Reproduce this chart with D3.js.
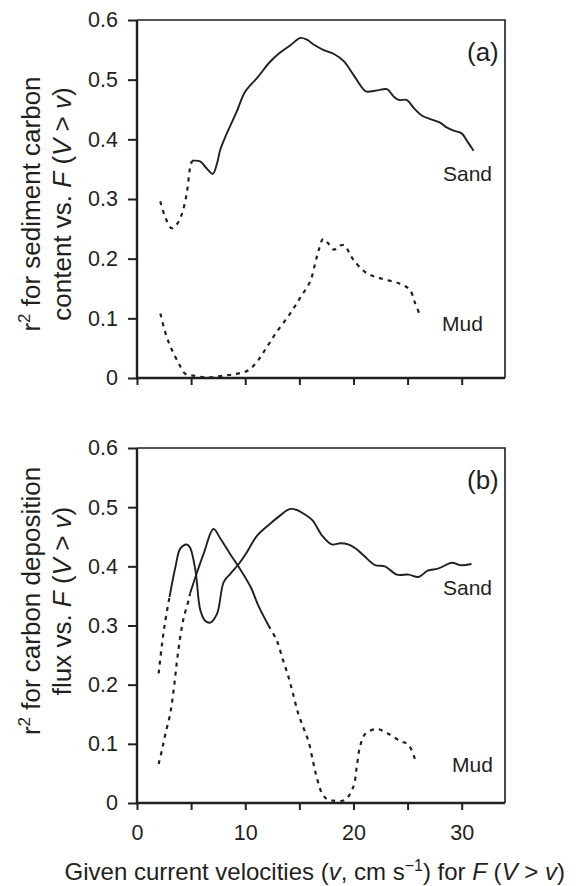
<!DOCTYPE html>
<html>
<head>
<meta charset="utf-8">
<script src="https://cdn.jsdelivr.net/npm/d3@7"></script>
<style>
  body { margin: 0; background: #fff; }
  svg { display: block; font-family: "Liberation Sans", Arial, Helvetica, sans-serif; }
  text { fill: #231f20; }
</style>
</head>
<body>
<div id="chart"></div>
<script>
'use strict';

// values: [velocity v (cm/s), r2]
var sandADash = [[2.15,0.296],[2.6,0.27],[3.2,0.251],[3.7,0.258],[4.15,0.275],[4.6,0.31],[4.9,0.352],[5.08,0.364]];
var sandASolid = [[5.08,0.364],[5.84,0.363],[6.4,0.352],[7.0,0.342],[7.4,0.36],[7.7,0.383],[8.3,0.41],[9.2,0.446],
  [10.0,0.48],[11.1,0.503],[12.3,0.53],[13.2,0.545],[14.2,0.558],[15.1,0.570],[15.7,0.567],[16.4,0.558],[17.2,0.55],
  [18.2,0.543],[19.1,0.531],[20.0,0.508],[20.9,0.484],[21.2,0.480],[22.2,0.482],[23.1,0.484],[23.7,0.472],[24.2,0.466],
  [24.9,0.466],[25.6,0.452],[26.3,0.440],[27.1,0.434],[28.0,0.428],[28.6,0.42],[29.2,0.415],[30.0,0.41],[30.5,0.397],[31.1,0.381]];
var mudADash = [[2.16,0.108],[2.46,0.086],[2.8,0.066],[3.23,0.047],[3.84,0.025],[4.46,0.007],[5.2,0.004],[6.46,0.001],
  [8.0,0.004],[9.2,0.007],[10.3,0.013],[11.2,0.03],[12.0,0.052],[12.9,0.077],[14.15,0.108],[15.1,0.135],[16.0,0.162],
  [16.5,0.195],[16.8,0.215],[17.2,0.233],[17.7,0.225],[18.2,0.215],[18.7,0.222],[19.2,0.222],[19.6,0.21],[20.0,0.198],
  [21.2,0.176],[22.5,0.167],[24.3,0.158],[25.2,0.148],[25.7,0.125],[26.2,0.103]];

var sandBDash = [[2.0,0.219],[2.3,0.267],[2.6,0.306],[3.0,0.348]];
var sandBSolid = [[3.0,0.348],[3.55,0.399],[4.0,0.43],[4.6,0.437],[4.9,0.432],[5.4,0.393],[5.85,0.326],[6.3,0.308],
  [6.77,0.305],[7.4,0.32],[8.0,0.373],[8.6,0.387],[9.4,0.404],[10.15,0.424],[11.1,0.452],[12.3,0.472],[13.3,0.487],
  [14.15,0.497],[14.8,0.495],[15.4,0.489],[16.2,0.478],[17.1,0.452],[18.0,0.437],[18.8,0.439],[19.5,0.437],[20.2,0.43],
  [20.9,0.419],[22.0,0.402],[22.9,0.40],[24.0,0.386],[25.1,0.386],[26.0,0.382],[26.9,0.393],[27.8,0.396],[29.1,0.406],
  [29.85,0.402],[30.9,0.404]];
var mudBDash1 = [[2.0,0.066],[2.3,0.089],[2.6,0.115],[3.07,0.151],[3.4,0.193],[3.7,0.241],[4.0,0.281],[4.3,0.312],[4.77,0.343],[4.9,0.354]];
var mudBSolid = [[4.9,0.354],[5.4,0.382],[6.15,0.421],[7.07,0.463],[7.7,0.447],[8.6,0.421],[9.5,0.396],[10.5,0.365],[11.2,0.334],[12.15,0.30]];
var mudBDash2 = [[12.15,0.30],[12.9,0.275],[13.5,0.241],[14.0,0.213],[14.45,0.182],[14.9,0.151],[15.4,0.126],[15.85,0.104],
  [16.3,0.067],[16.6,0.044],[17.1,0.016],[17.6,0.006],[18.15,0.004],[19.2,0.005],[20.0,0.028],[20.3,0.061],[20.6,0.095],
  [21.1,0.117],[22.15,0.125],[23.2,0.117],[24.3,0.105],[25.1,0.098],[25.7,0.073]];

var yTicks = [0, 0.1, 0.2, 0.3, 0.4, 0.5, 0.6];
var xTicks = [0, 5, 10, 15, 20, 25, 30];
var xTickLabels = [0, 10, 20, 30];

var width = 578, height = 886;
var left = 137, right = 505;

var svg = d3.select('#chart').append('svg')
  .attr('width', width)
  .attr('height', height);

var x = d3.scaleLinear().domain([0, 34]).range([left, right]);

var line = d3.line()
  .x(function(d) { return x(d[0]); })
  .curve(d3.curveCatmullRom.alpha(0.5));

function panel(top, bottom, opts) {
  var y = d3.scaleLinear().domain([0, 0.6]).range([bottom, top]);
  line.y(function(d) { return y(d[1]); });
  var g = svg.append('g');

  // frame top + right
  g.append('path')
    .attr('d', 'M' + x(0) + ',' + y(0.6) + 'H' + x(34) + 'V' + y(0))
    .attr('fill', 'none').attr('stroke', '#231f20').attr('stroke-width', 1.6);

  var ya = g.append('g')
    .attr('transform', 'translate(' + x(0) + ',0)')
    .call(d3.axisLeft(y).tickValues(yTicks).tickSize(9).tickPadding(10)
      .tickFormat(function(d) { return d === 0 ? '0' : d3.format('.1f')(d); }));
  var xa = g.append('g')
    .attr('transform', 'translate(0,' + y(0) + ')')
    .call(d3.axisBottom(x).tickValues(xTicks).tickSize(7).tickPadding(15)
      .tickFormat(function(d) { return opts.xLabels && xTickLabels.indexOf(d) >= 0 ? d : ''; }));
  [ya, xa].forEach(function(a) {
    a.select('.domain').remove();
    a.selectAll('line').attr('stroke', '#231f20').attr('stroke-width', 2);
    a.selectAll('text').attr('font-size', 21.5).style('font-family', 'inherit').attr('fill', '#231f20');
  });
  // axis lines
  g.append('path')
    .attr('d', 'M' + x(0) + ',' + y(0.6) + 'V' + y(0) + 'H' + x(34))
    .attr('fill', 'none').attr('stroke', '#231f20').attr('stroke-width', 2.4);

  opts.dashed.forEach(function(s) {
    g.append('path').attr('d', line(s))
      .attr('fill', 'none').attr('stroke', '#231f20').attr('stroke-width', 2.2)
      .attr('stroke-dasharray', '4,5');
  });
  opts.solid.forEach(function(s) {
    g.append('path').attr('d', line(s))
      .attr('fill', 'none').attr('stroke', '#231f20').attr('stroke-width', 1.9);
  });

  g.append('text').attr('x', 467).attr('y', top + 40.5).attr('font-size', 26).text(opts.tag);
  opts.labels.forEach(function(l) {
    g.append('text').attr('x', l[0]).attr('y', y(l[1])).attr('font-size', 21).text(l[2]);
  });

  // y title
  var t = g.append('g')
    .attr('transform', 'translate(40,' + opts.titleY + ') rotate(-90)')
    .attr('text-anchor', 'middle').attr('font-size', 26);
  var t1 = t.append('text').attr('y', 0);
  t1.append('tspan').text('r');
  t1.append('tspan').attr('font-size', 17).attr('dy', -10).text('2');
  t1.append('tspan').attr('dy', 10).text(' ' + opts.title1);
  var t2 = t.append('text').attr('y', 31);
  t2.append('tspan').text(opts.title2 + ' ');
  t2.append('tspan').attr('font-style', 'italic').text('F');
  t2.append('tspan').text(' (');
  t2.append('tspan').attr('font-style', 'italic').text('V');
  t2.append('tspan').text(' > ');
  t2.append('tspan').attr('font-style', 'italic').text('v');
  t2.append('tspan').text(')');
}

panel(20, 378, {
  tag: '(a)',
  dashed: [sandADash, mudADash],
  solid: [sandASolid],
  labels: [[443, 0.33, 'Sand'], [442, 0.078, 'Mud']],
  title1: 'for sediment carbon',
  title2: 'content vs.',
  titleY: 204,
  xLabels: false
});

panel(448, 803, {
  tag: '(b)',
  dashed: [sandBDash, mudBDash1, mudBDash2],
  solid: [sandBSolid, mudBSolid],
  labels: [[443, 0.352, 'Sand'], [452, 0.052, 'Mud']],
  title1: 'for carbon deposition',
  title2: 'flux vs.',
  titleY: 601,
  xLabels: true
});

// x title
var xt = svg.append('text')
  .attr('x', 565).attr('y', 880)
  .attr('text-anchor', 'end').attr('font-size', 24);
xt.append('tspan').text('Given current velocities (');
xt.append('tspan').attr('font-style', 'italic').text('v');
xt.append('tspan').text(', cm s');
xt.append('tspan').attr('font-size', 16).attr('dy', -9).text('\u22121');
xt.append('tspan').attr('dy', 9).text(') for ');
xt.append('tspan').attr('font-style', 'italic').text('F');
xt.append('tspan').text(' (');
xt.append('tspan').attr('font-style', 'italic').text('V');
xt.append('tspan').text(' > ');
xt.append('tspan').attr('font-style', 'italic').text('v');
xt.append('tspan').text(')');
</script>
</body>
</html>
